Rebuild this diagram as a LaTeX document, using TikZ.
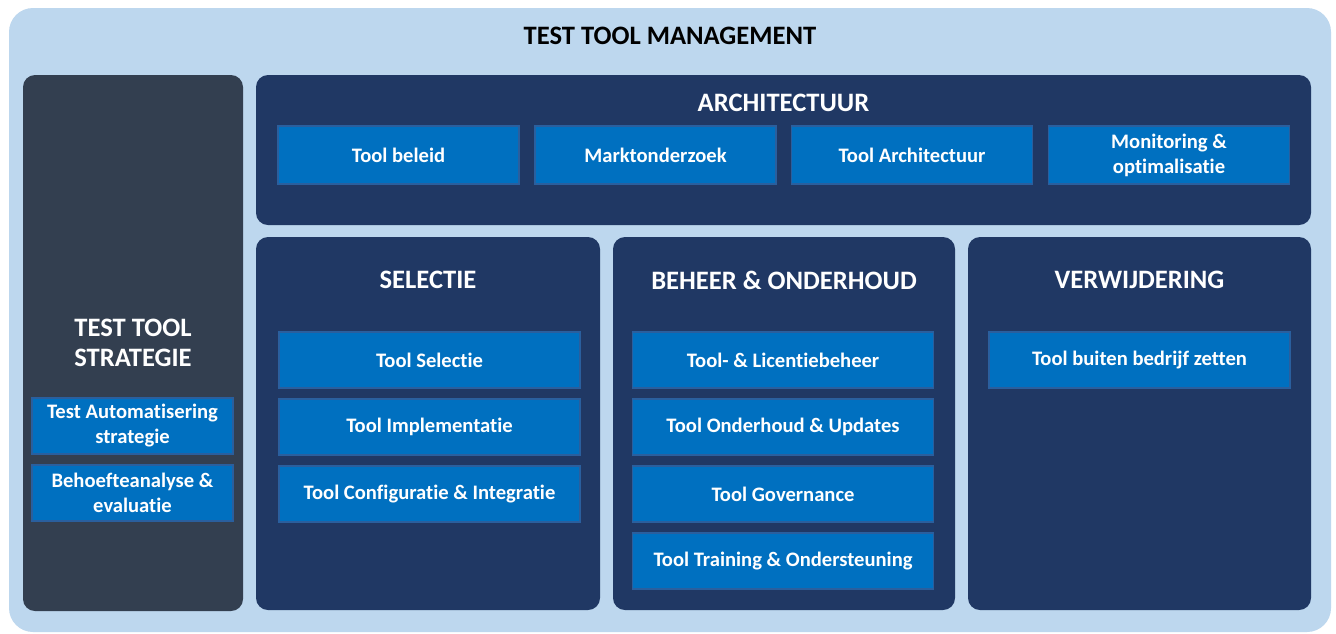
\documentclass[tikz,border=0pt]{standalone}
\usepackage{fontspec}
\setmainfont{Carlito}[Ligatures={NoCommon}]
\usetikzlibrary{positioning}

\definecolor{lichtblauw}{HTML}{BDD7EE}
\definecolor{leisteen}{HTML}{333F50}
\definecolor{marine}{HTML}{203864}
\definecolor{middenblauw}{HTML}{0070C0}
\definecolor{randblauw}{HTML}{2A5F9E}

\begin{document}
\begin{tikzpicture}
        [
         x=0.5pt, y=-0.5pt,          % 1 eenheid = 1 pixel van het origineel
         every node/.style={text=white, font=\bfseries, align=center},
         paneel/.style={rounded corners=6pt, inner sep=0pt, fill=marine},
         blok/.style={fill=middenblauw, draw=randblauw, line width=0.6pt,
                      inner sep=0pt, font=\bfseries\fontsize{10.3}{12.5}\selectfont},
         kop/.style={font=\bfseries\fontsize{13.3}{15}\selectfont}
        ]
         \useasboundingbox[fill=white] (0,0) rectangle (1336,633);
         % achtergrond
         \node[fill=lichtblauw, rounded corners=12pt, inner sep=0pt,
               minimum width=661pt, minimum height=312pt] (beheer) at (670,320) {};
         \node[text=black, kop] (titel) at (670,36) {TEST TOOL MANAGEMENT};

         % strategie (links)
         \node[paneel, fill=leisteen, minimum width=110pt, minimum height=268pt] (strategie) at (133,343) {};
         \node[kop] (strategiekop) at (133,343) {TEST TOOL\\STRATEGIE};
         \node[blok, minimum width=100.5pt, minimum height=28pt]
              (automatisering) at (132.5,426) {Test Automatisering\\strategie};
         \node[blok, minimum width=100.5pt, minimum height=28pt]
              (behoefte) at (132.5,493) {Behoefteanalyse \&\\evaluatie};

         % architectuur (boven)
         \node[paneel, minimum width=527.5pt, minimum height=75pt] (architectuur) at (783.5,150) {};
         \node[kop] (architectuurkop) at (783.5,103) {ARCHITECTUUR};
         \foreach \x/\naam/\tekst in {398.5/beleid/Tool beleid,
                                     655.5/markt/Marktonderzoek,
                                     912/toolarch/Tool Architectuur,
                                     1169/monitoring/{Monitoring \&\\optimalisatie}}
           \node[blok, minimum width=120.5pt, minimum height=29pt] (\naam) at (\x,155) {\tekst};

         % drie fasen
         \node[paneel, minimum width=172pt, minimum height=186.5pt] (selectie) at (428,423.5) {};
         \node[paneel, minimum width=171pt, minimum height=186.5pt] (onderhoud) at (784,423.5) {};
         \node[paneel, minimum width=171.5pt, minimum height=186.5pt] (verwijdering) at (1139.5,423.5) {};
         \node[kop] (selectiekop) at (428,280) {SELECTIE};
         \node[kop] (onderhoudkop) at (784,280) {BEHEER \& ONDERHOUD};
         \node[kop] (verwijderingkop) at (1139.5,280) {VERWIJDERING};

         \foreach \y/\naam/\tekst in {360/toolselectie/Tool Selectie,
                                     427/implementatie/Tool Implementatie,
                                     494/configuratie/Tool Configuratie \& Integratie}
           \node[blok, minimum width=150.5pt, minimum height=28pt] (\naam) at (429.5,\y) {\tekst};

         \foreach \y/\naam/\tekst in {360/licentie/Tool- \& Licentiebeheer,
                                     427/updates/Tool Onderhoud \& Updates,
                                     494/governance/Tool Governance,
                                     561/training/Tool Training \& Ondersteuning}
           \node[blok, minimum width=150.5pt, minimum height=28pt] (\naam) at (783,\y) {\tekst};

         \node[blok, minimum width=150.5pt, minimum height=28pt] (buitenbedrijf) at (1139.5,360) {Tool buiten bedrijf zetten};
        \end{tikzpicture}
\end{document}
